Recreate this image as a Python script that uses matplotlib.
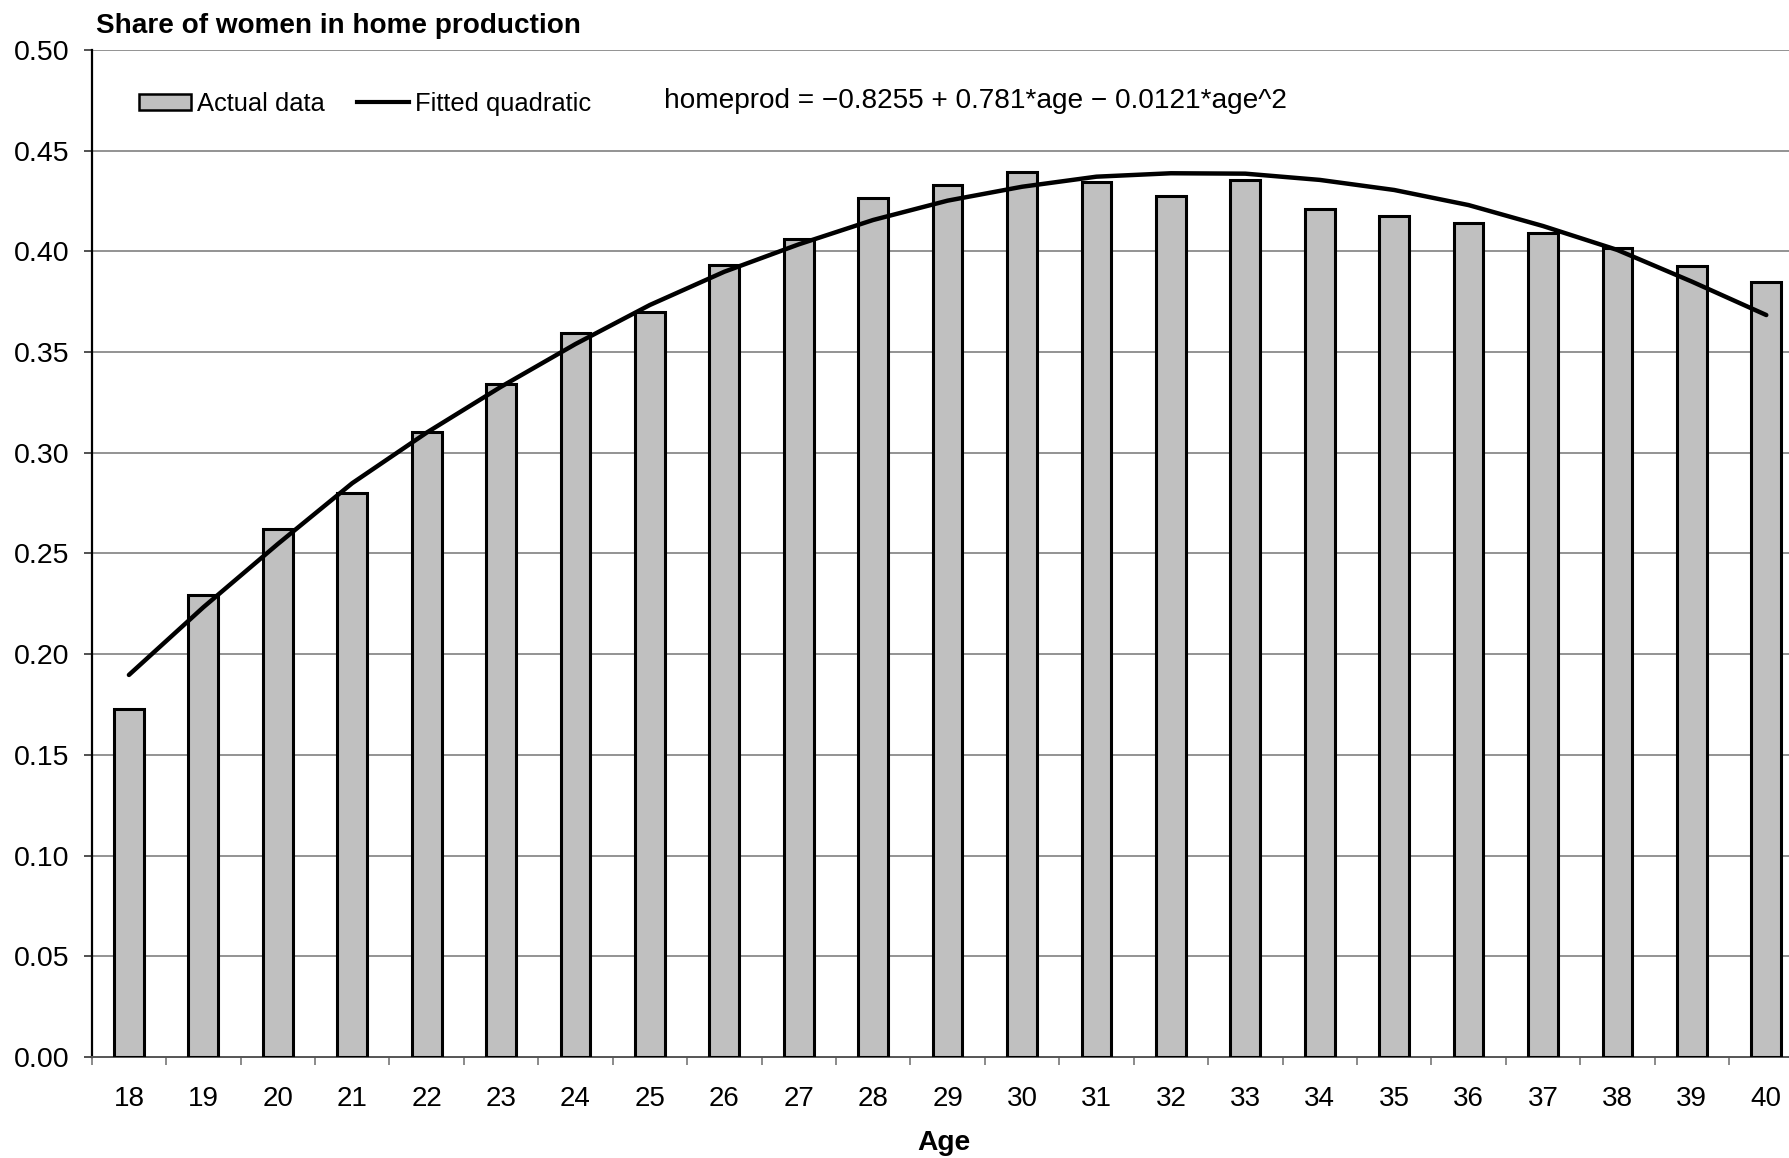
import matplotlib
matplotlib.use("Agg")
import matplotlib.pyplot as plt
from matplotlib.patches import Patch
from matplotlib.lines import Line2D
import numpy as np

plt.rcParams['font.family'] = ['Liberation Sans', 'DejaVu Sans']

ages = [18, 19, 20, 21, 22, 23, 24, 25, 26, 27, 28, 29, 30, 31, 32, 33, 34, 35, 36, 37, 38, 39, 40]
actual = [0.1728, 0.2294, 0.2623, 0.2799, 0.3103, 0.3342, 0.3596, 0.3699, 0.3932, 0.4060,
          0.4267, 0.4330, 0.4396, 0.4346, 0.4277, 0.4355, 0.4211, 0.4177, 0.4143, 0.4090,
          0.4019, 0.3928, 0.3850]
fitted = [0.1897, 0.2233, 0.2547, 0.2849, 0.3100, 0.3328, 0.3540, 0.3734, 0.3899, 0.4035,
          0.4156, 0.4252, 0.4321, 0.4371, 0.4388, 0.4386, 0.4355, 0.4305, 0.4230, 0.4126,
          0.4007, 0.3850, 0.3684]
yticks = [0.00, 0.05, 0.10, 0.15, 0.20, 0.25, 0.30, 0.35, 0.40, 0.45, 0.50]
title = "Share of women in home production"
xlabel = "Age"
equation = "homeprod = \u22120.8255 + 0.781*age \u2212 0.0121*age^2"

W, H = 1790, 1158
fig = plt.figure(figsize=(W / 100, H / 100), dpi=100)

def fx(px):
    return px / W

def fy(py):
    return 1 - py / H

left_px, right_px, top_px, bot_px = 91.7, 1803.5, 50.0, 1057.0
ax = fig.add_axes([fx(left_px), fy(bot_px), fx(right_px - left_px), (bot_px - top_px) / H])

x = np.arange(len(ages))
ax.bar(x, actual, width=0.4, color='#C0C0C0', edgecolor='black', linewidth=2.2, zorder=3)
ax.plot(x, fitted, color='black', linewidth=3.2, solid_capstyle='round', zorder=4)

ax.set_xlim(-0.5, len(ages) - 0.5)
ax.set_ylim(0, 0.5)

# grid
ax.set_yticks(yticks)
ax.set_yticklabels([f"{v:.2f}" for v in yticks], fontsize=20.5)
for v in yticks[1:]:
    ax.axhline(v, color='#8a8a8a', linewidth=1.3, zorder=1)

ax.tick_params(axis='y', which='major', length=6, width=1.2, color='#333333', pad=10)

# x: boundary ticks + centered labels
ax.set_xticks(np.arange(-0.5, len(ages), 1.0))
ax.set_xticklabels([])
ax.set_xticks(x, minor=True)
ax.set_xticklabels([str(a) for a in ages], minor=True, fontsize=20)
ax.tick_params(axis='x', which='major', length=6, width=1.2, color='#777777', direction='out')
ax.tick_params(axis='x', which='minor', length=0, pad=21)

for s in ['top', 'right']:
    ax.spines[s].set_visible(False)
ax.spines['left'].set_color('black')
ax.spines['left'].set_linewidth(1.6)
ax.spines['bottom'].set_color('#555555')
ax.spines['bottom'].set_linewidth(1.4)

fig.text(fx(944), fy(1143), xlabel, fontsize=20.3, fontweight='bold', ha='center', va='center')
fig.text(fx(96), fy(26), title, fontsize=20.1, fontweight='bold', ha='left', va='center')
fig.text(fx(664), fy(101), equation, fontsize=20.15, ha='left', va='center')

handles = [Patch(facecolor='#C0C0C0', edgecolor='black', linewidth=1.8),
           Line2D([0], [0], color='black', linewidth=3.0)]
fig.legend(handles, ['Actual data', 'Fitted quadratic'], loc='center left',
           bbox_to_anchor=(fx(139), fy(104)), ncol=2, frameon=False, fontsize=18.4,
           borderpad=0, borderaxespad=0, handlelength=2.05, handleheight=0.6,
           handletextpad=0.22, columnspacing=1.25)

fig.savefig('out.png', dpi=100)
